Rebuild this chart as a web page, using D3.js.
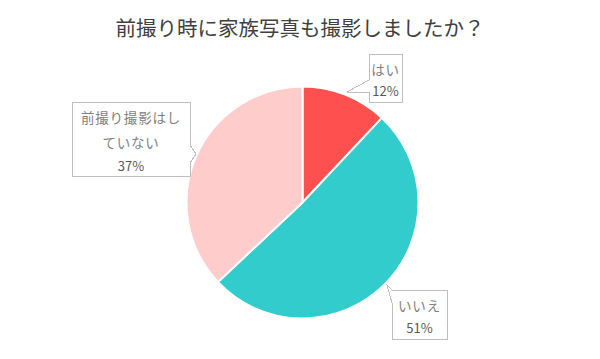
<!DOCTYPE html>
<html><head><meta charset="utf-8">
<script src="https://cdn.jsdelivr.net/npm/d3@7"></script>
<style>
html,body{margin:0;padding:0;background:#fff;}
svg{display:block;font-family:"Noto Sans CJK JP","Noto Sans",sans-serif;}
</style></head>
<body>
<svg id="c" width="600" height="359"></svg>
<script>
const categories = ["はい", "いいえ", "前撮り撮影はしていない"];
const values = [12, 51, 37];
const labelLines = [["はい"], ["いいえ"], ["前撮り撮影はし", "ていない"]];
const colors = ["#FF5050", "#33CCCC", "#FFCCCC"];
const title = "前撮り時に家族写真も撮影しましたか？";

const svg = d3.select("#c");
const W = 600, H = 359;
const cx = 302.5, cy = 202.5, R = 116;

svg.append("text").attr("x", 300).attr("y", 36).attr("text-anchor", "middle")
  .attr("font-size", 20.5).attr("fill", "#404040").text(title);

const pie = d3.pie().sort(null).value(d => d)(values);
const arc = d3.arc().innerRadius(0).outerRadius(R);
const g = svg.append("g").attr("transform", `translate(${cx},${cy})`);
g.selectAll("path").data(pie).join("path")
  .attr("d", arc).attr("fill", (d, i) => colors[i])
  .attr("stroke", "#fff").attr("stroke-width", 2).attr("stroke-linejoin", "round");

// callout layouts (box + pointer)
const layouts = [
  {x0: 369, y0: 54, x1: 402, y1: 102, pointer: [[369, 80], [347, 92], [369, 92]], side: "left",
   lineY: [70], pctY: 91},
  {x0: 392, y0: 290, x1: 447, y1: 339, pointer: [[392, 303], [387, 285], [392, 290]], side: "left",
   lineY: [306], pctY: 328},
  {x0: 72, y0: 102, x1: 190, y1: 176, pointer: [[190, 145], [196, 154], [190, 163]], side: "right",
   lineY: [118, 143], pctY: 166}
];

const total = d3.sum(values);
layouts.forEach((L, i) => {
  let pts;
  if (L.side === "left") {
    // start at top-left, go clockwise, insert pointer on left edge (going up)
    const p = L.pointer;
    const ordered = p[0][1] > p[2][1] ? p : p.slice().reverse();
    pts = [[L.x0, L.y0], [L.x1, L.y0], [L.x1, L.y1], [L.x0, L.y1], ...ordered];
  } else {
    const p = L.pointer;
    const ordered = p[0][1] < p[2][1] ? p : p.slice().reverse();
    pts = [[L.x0, L.y0], [L.x1, L.y0], ...ordered, [L.x1, L.y1], [L.x0, L.y1]];
  }
  svg.append("path").attr("d", d3.line()(pts) + "Z")
    .attr("fill", "#fff").attr("stroke", "#BFBFBF").attr("stroke-width", 1)
    .attr("shape-rendering", "crispEdges");
  const mx = (L.x0 + L.x1) / 2;
  labelLines[i].forEach((t, j) => {
    svg.append("text").attr("x", mx).attr("y", L.lineY[j]).attr("dy", "0.35em")
      .attr("text-anchor", "middle").attr("font-size", 13.5).attr("letter-spacing", 0.8)
      .attr("fill", "#7F7F7F").text(t);
  });
  svg.append("text").attr("x", mx).attr("y", L.pctY).attr("dy", "0.35em")
    .attr("text-anchor", "middle").attr("font-size", 13).attr("fill", "#595959")
    .text(Math.round(values[i] / total * 100) + "%");
});
</script>
</body></html>
